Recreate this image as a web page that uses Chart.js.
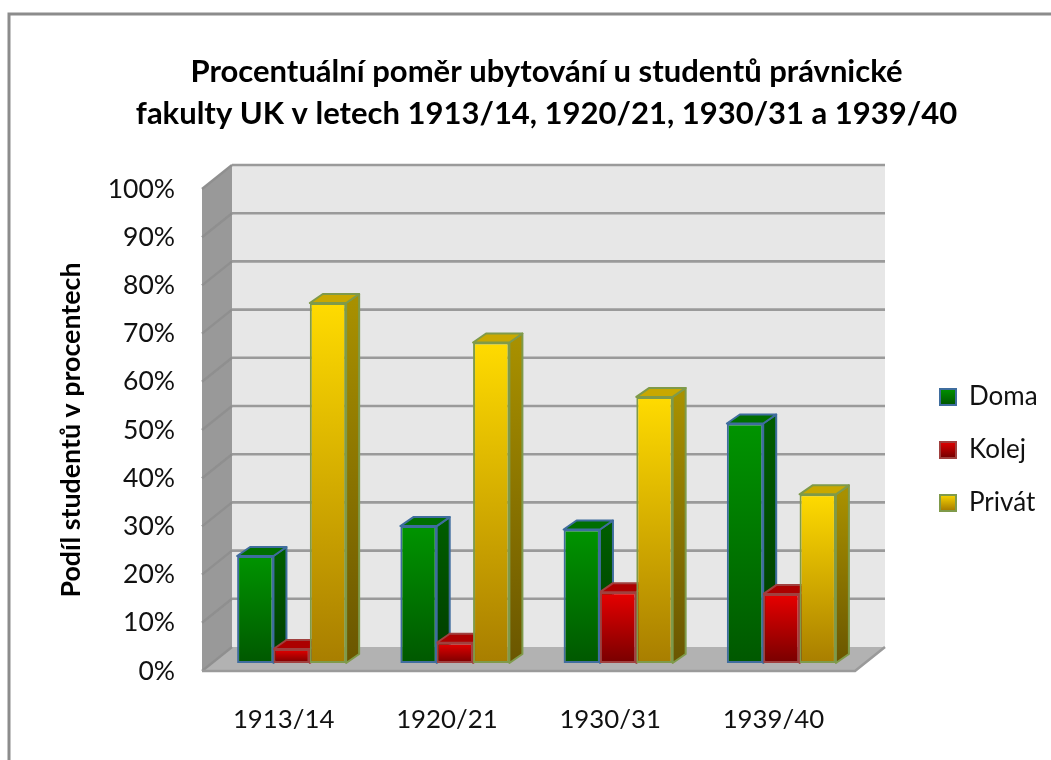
<!DOCTYPE html>
<html><head><meta charset="utf-8">
<style>html,body{margin:0;padding:0;background:#fff;overflow:hidden}canvas{display:block}</style>
<script src="https://cdn.jsdelivr.net/npm/chart.js@4"></script>
</head><body><canvas id="c" width="1051" height="760"></canvas>
<script>
const chartTitle = ["Procentuální poměr ubytování u studentů právnické","fakulty UK v letech 1913/14, 1920/21, 1930/31 a 1939/40"];
const yTitle = "Podíl studentů v procentech";
const categories = ["1913/14","1920/21","1930/31","1939/40"];
const doma = [22.2,28.4,27.7,49.7];
const kolej = [2.9,4.2,14.7,14.3];
const privat = [74.7,66.5,55.2,35.0];
const FONT = "Lato";
const styles = [
 {top:"#009400",bottom:"#005800",stroke:"#3f6d9e",sideT:"#005c00",sideB:"#003c00",cap:"#006e00"},
 {top:"#e80000",bottom:"#780000",stroke:"#a0403e",sideT:"#8c0000",sideB:"#500000",cap:"#ac0000"},
 {top:"#ffdb00",bottom:"#a87e00",stroke:"#7f9a4a",sideT:"#a89000",sideB:"#6a5600",cap:"#c9a800"}
];
const DX=8, DY=-8, BX=13, BY=-9, WX=30, WY=-24;
function barFill(i){return c=>{
  const ch=c.chart, s=styles[i];
  if(c.type!=='data'||!ch.chartArea) return s.top;
  const y=ch.scales.y, g=ch.ctx.createLinearGradient(0,y.getPixelForValue(c.raw),0,y.getPixelForValue(0));
  g.addColorStop(0,s.top); g.addColorStop(1,s.bottom); return g;
};}
function poly(ctx,pts,fill){ctx.beginPath();pts.forEach((p,i)=>i?ctx.lineTo(p[0],p[1]):ctx.moveTo(p[0],p[1]));ctx.closePath();ctx.fillStyle=fill;ctx.fill();}
const scene={id:'scene',
 afterLayout(ch){
  const t=ch.titleBlock; t.left=42; t.right=1051;
  const l=ch.legend; l.left=913; l.right=1051; l.top=357; l.bottom=562;
 },
 beforeDraw(ch){
  const c=ch.ctx; c.save();
  c.strokeStyle="#8c8c8c"; c.lineWidth=3;
  c.beginPath(); c.moveTo(9,760); c.lineTo(9,14); c.lineTo(1051,14); c.stroke();
  const a=ch.chartArea, L=a.left,R=a.right,T=a.top,B=a.bottom;
  poly(c,[[L+WX,T+WY],[R+WX,T+WY],[R+WX,B+WY],[L+WX,B+WY]],"#e7e7e7");
  poly(c,[[L,T],[L+WX,T+WY],[L+WX,B+WY],[L,B]],"#999999");
  poly(c,[[L,B],[L+WX,B+WY],[R+WX,B+WY],[R,B]],"#b2b2b2");
  const y=ch.scales.y;
  y.ticks.forEach(tk=>{
    const p=y.getPixelForValue(tk.value);
    c.lineWidth=2.4; c.strokeStyle="#8f8f8f";
    c.beginPath(); c.moveTo(L,p); c.lineTo(L+WX,p+WY); c.stroke();
    if(tk.value>0){c.strokeStyle="#9a9a9a"; c.lineWidth=2.6; c.beginPath(); c.moveTo(L+WX,p+WY); c.lineTo(R+WX,p+WY); c.stroke();}
  });
  c.strokeStyle="#9a9a9a"; c.lineWidth=2.6;
  c.beginPath(); c.moveTo(L,B); c.lineTo(R,B); c.lineTo(R+WX,B+WY); c.stroke();
  c.restore();
 },
 beforeDatasetsDraw(ch){
  const c=ch.ctx; c.save(); c.translate(DX,DY);
  for(let k=0;k<categories.length;k++) for(let i=0;i<3;i++){
   const el=ch.getDatasetMeta(i).data[k], s=styles[i];
   const p=el.getProps(['x','y','base','width'],true);
   const l=p.x-p.width/2, r=p.x+p.width/2, t=p.y, b=p.base;
   const g=c.createLinearGradient(0,t,0,b); g.addColorStop(0,s.sideT); g.addColorStop(1,s.sideB);
   c.lineJoin='round'; c.strokeStyle=s.stroke; c.lineWidth=2;
   poly(c,[[r,t],[r+BX,t+BY],[r+BX,b+BY],[r,b]],g); c.stroke();
   poly(c,[[l,t],[l+BX,t+BY],[r+BX,t+BY],[r,t]],s.cap); c.stroke();
  }
 },
 afterDatasetsDraw(ch){ch.ctx.restore();}
};
function mk(label,data,i){return {label,data,backgroundColor:barFill(i),borderColor:styles[i].stroke,borderWidth:2,borderSkipped:false,clip:false,barPercentage:1,categoryPercentage:0.668};}
new Chart(document.getElementById('c'),{
 type:'bar',
 data:{labels:categories,datasets:[mk("Doma",doma,0),mk("Kolej",kolej,1),mk("Privát",privat,2)]},
 plugins:[scene],
 options:{
  responsive:false,animation:false,events:[],
  layout:{padding:{left:0,right:196,top:30,bottom:0}},
  plugins:{
   tooltip:{enabled:false},
   title:{display:true,text:chartTitle,color:"#000",font:{family:FONT,size:31,weight:"bold",lineHeight:1.355},padding:{top:21,bottom:54}},
   legend:{position:'chartArea',align:'start',labels:{color:"#111",font:{family:FONT,size:26},boxWidth:16,boxHeight:16,padding:27,
     generateLabels(ch){
      const items=Chart.defaults.plugins.legend.labels.generateLabels(ch);
      items.forEach((it,i)=>{const y0=388+53*i,g=ch.ctx.createLinearGradient(0,y0,0,y0+16);g.addColorStop(0,styles[i].top);g.addColorStop(1,styles[i].bottom);it.fillStyle=g;it.strokeStyle=styles[i].stroke;it.lineWidth=2;});
      return items;
     }}}
  },
  scales:{
   x:{grid:{display:false,drawTicks:false},border:{display:false},offset:true,
      ticks:{color:"#111",font:{family:FONT,size:25.8},padding:33,maxRotation:0},
      afterFit(s){s.height=89;}},
   y:{min:0,max:100,grid:{display:false,drawTicks:false},border:{display:false},
      ticks:{stepSize:10,color:"#111",font:{family:FONT,size:26.5},padding:27,callback:v=>v+"%"},
      title:{display:true,text:yTitle,color:"#000",font:{family:FONT,size:26.8,weight:"bold"},padding:{top:55,bottom:0}},
      afterFit(s){s.width=202;}}
  }
 }
});
</script></body></html>
